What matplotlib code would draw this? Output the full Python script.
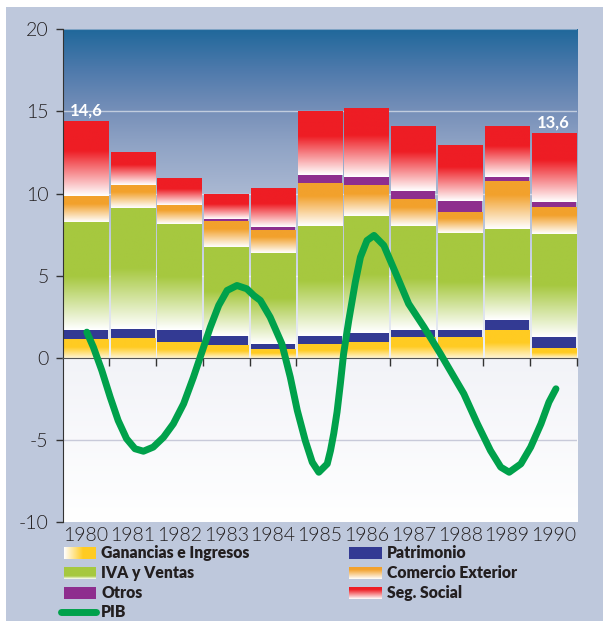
import numpy as np
import matplotlib
matplotlib.use('Agg')
import matplotlib.pyplot as plt
from matplotlib.colors import to_rgb
from matplotlib.patches import Rectangle

# Recaudacion por impuesto (% del PIB) y variacion del PIB
years = [1980, 1981, 1982, 1983, 1984, 1985, 1986, 1987, 1988, 1989, 1990]
ganancias = [1.16, 1.19, 0.95, 0.75, 0.51, 0.81, 0.99, 1.24, 1.24, 1.68, 0.59]
patrimonio = [0.54, 0.55, 0.73, 0.55, 0.30, 0.49, 0.49, 0.48, 0.48, 0.65, 0.65]
iva_ventas = [6.56, 7.37, 6.46, 5.44, 5.56, 6.72, 7.15, 6.30, 5.87, 5.50, 6.29]
comercio = [1.56, 1.38, 1.16, 1.56, 1.40, 2.60, 1.92, 1.62, 1.26, 2.93, 1.64]
otros = [0.00, 0.00, 0.00, 0.14, 0.18, 0.48, 0.43, 0.51, 0.67, 0.22, 0.29]
seg_social = [4.57, 2.01, 1.62, 1.51, 2.36, 3.90, 4.22, 3.96, 3.43, 3.13, 4.22]

# PIB
pib_x = [1980.02, 1980.16, 1980.34, 1980.52, 1980.69, 1980.87, 1981.05, 1981.23,
         1981.44, 1981.66, 1981.87, 1982.09, 1982.30, 1982.48, 1982.66, 1982.84,
         1983.02, 1983.23, 1983.44, 1983.59, 1983.73, 1983.94, 1984.19, 1984.37,
         1984.52, 1984.69, 1984.84, 1984.98, 1985.16, 1985.23, 1985.30, 1985.37,
         1985.44, 1985.51, 1985.62, 1985.76, 1985.87, 1986.01, 1986.16, 1986.37,
         1986.66, 1986.90, 1987.23, 1987.58, 1988.08, 1988.37, 1988.65, 1988.87,
         1989.05, 1989.30, 1989.51, 1989.73, 1989.90, 1990.05]
pib_y = [1.56, 0.65, -0.77, -2.40, -3.82, -4.93, -5.54, -5.69,
         -5.44, -4.84, -4.02, -2.80, -1.18, 0.34, 1.86, 3.19,
         4.10, 4.40, 4.20, 3.79, 3.49, 2.47, 0.85, -1.18,
         -3.21, -5.04, -6.36, -6.97, -6.46, -5.65, -4.60, -3.30,
         -1.60, 0.24, 2.27, 4.60, 6.13, 7.14, 7.45, 6.84,
         4.91, 3.29, 1.86, 0.24, -2.19, -4.02, -5.65, -6.66,
         -6.97, -6.46, -5.44, -4.02, -2.70, -1.89]

labels_top = {1980: ("14,6", 15.05), 1990: ("13,6", 14.33)}

# name, values, colour, fade fraction (None = solid), floor
series = [
    ("Ganancias e Ingresos", ganancias, "#FFCB22", 0.55, 0.2),
    ("Patrimonio", patrimonio, "#333A93", None, 0),
    ("IVA y Ventas", iva_ventas, "#A6C83F", 0.5, 0.0),
    ("Comercio Exterior", comercio, "#F2A12C", 0.7, 0.0),
    ("Otros", otros, "#8E2E8E", None, 0),
    ("Seg. Social", seg_social, "#EE1D24", 0.6, 0.0),
]

W, H = 603, 621
fig = plt.figure(figsize=(W / 100, H / 100), dpi=100)
fig.patch.set_facecolor("white")

bg = fig.add_axes([0, 0, 1, 1], zorder=0)
bg.axis("off")
bg.add_patch(Rectangle((6, 7), W - 6, H - 7, color="#BEC8DC", lw=0, zorder=0))


def grad_img(color, fade, floor=0.0, n=80):
    t = np.linspace(0, 1, n)
    f = np.clip(t / fade, 0, 1)
    f = floor + (1 - floor) * f
    c = np.array(to_rgb(color))
    img = np.ones(3) * (1 - f)[:, None] + c * f[:, None]
    return img[:, None, :]


ax = fig.add_axes([62.5 / W, 1 - 522 / H, (577 - 62.5) / W, (522 - 29.3) / H], zorder=1)

# background gradients
sky = ["#EEF1F6", "#D2D9E7", "#AAB8D2", "#8FA3C5", "#7790B9", "#4F7AAC", "#20689B"]
sky_pos = [0, 5, 10, 13, 15, 17.5, 20]
yy = np.linspace(0, 20, 200)
sky_img = np.array([np.interp(yy, sky_pos, [to_rgb(c)[k] for c in sky]) for k in range(3)]).T
ax.imshow(sky_img[:, None, :], extent=[1979.5, 1990.5, 0, 20], origin="lower",
          aspect="auto", zorder=0, interpolation="bilinear")
low = np.linspace(0, 1, 50)
low_img = (np.array(to_rgb("#FFFFFF")) * (1 - low)[:, None]
           + np.array(to_rgb("#F2F3F8")) * low[:, None])
ax.imshow(low_img[:, None, :], extent=[1979.5, 1990.5, -10, 0], origin="lower",
          aspect="auto", zorder=0, interpolation="bilinear")
ax.axhline(20, color="#7FA3C4", lw=1.5, zorder=0.5)

for g in [5, 10, 15]:
    ax.axhline(g, color="white", lw=1, alpha=0.55, zorder=0.5)
ax.axhline(-5, color="#C8CAD9", lw=1, zorder=0.5)

bottom = np.zeros(len(years))
for name, vals, col, fade, floor in series:
    bars = ax.bar(years, vals, width=0.945, bottom=bottom, color=col, lw=0, zorder=2)
    if fade is not None:
        img = grad_img(col, fade, floor)
        for p in bars.patches:
            x0, y0 = p.get_xy()
            h = p.get_height()
            if h <= 0:
                continue
            im = ax.imshow(img, extent=[x0, x0 + p.get_width(), y0, y0 + h],
                           origin="lower", aspect="auto", zorder=2.1,
                           interpolation="bilinear")
            im.set_clip_path(p)
    bottom = bottom + np.array(vals)

ax.plot(pib_x, pib_y, color="#00A14B", lw=5, solid_capstyle="round",
        solid_joinstyle="round", zorder=4)

for yr, (txt, yv) in labels_top.items():
    ax.text(yr, yv, txt, color="white", fontsize=12, fontweight="bold",
            family="Lato", ha="center", va="center", zorder=5)

ax.set_xlim(1979.5, 1990.5)
ax.set_ylim(-10, 20)
ax.set_yticks([-10, -5, 0, 5, 10, 15, 20])
ax.set_yticklabels(["-10", "-5", "0", "5", "10", "15", "20"], family="Lato",
                   fontweight=300, fontsize=14, color="#231F20")
ax.tick_params(axis="y", length=5, width=1, color="#333333", pad=5)
ax.set_xticks([y + 0.5 for y in years])
ax.set_xticklabels([])
ax.tick_params(axis="x", length=6, width=1, color="#333333", direction="out")
ax.spines["bottom"].set_position(("data", 0))
ax.spines["bottom"].set_color("#555555")
ax.spines["bottom"].set_zorder(3)
ax.spines["left"].set_color("#333333")
ax.spines["top"].set_visible(False)
ax.spines["right"].set_visible(False)

for yr in years:
    ax.text(yr, -11.15, str(yr), ha="center", va="baseline", family="Lato",
            fontweight=300, fontsize=14, color="#231F20", clip_on=False)

# legend
rows = [553, 573, 593, 612]
cols = [(64, 96, 101), (349, 382, 387)]
slots = [(0, 0), (0, 1), (1, 0), (1, 1), (2, 0), (2, 1)]
for i, (r, c) in enumerate(slots):
    name, vals, col, fade, floor = series[i]
    x0, x1, tx = cols[c]
    yc = rows[r]
    if name == "Ganancias e Ingresos":
        img = grad_img(col, 0.6, 0.0)[:, 0, :][None, :, :]
        bg.imshow(img, extent=[x0, x1, yc + 6, yc - 6], origin="lower",
                  aspect="auto", interpolation="bilinear", zorder=2)
    elif fade is not None:
        img = grad_img(col, 0.25 if name == "IVA y Ventas" else 0.8, 0.0)
        bg.imshow(img, extent=[x0, x1, yc + 6, yc - 6], origin="lower",
                  aspect="auto", interpolation="bilinear", zorder=2)
    else:
        bg.add_patch(Rectangle((x0, yc - 6), x1 - x0, 12, color=col, lw=0, zorder=2))
    bg.text(tx, yc, name, family="Lato", fontweight="heavy", fontsize=11.3,
            color="#231F20", ha="left", va="center", zorder=3)

bg.plot([61, 96], [rows[3], rows[3]], color="#00A14B", lw=5, solid_capstyle="round",
        zorder=3)
bg.text(cols[0][2], rows[3], "PIB", family="Lato", fontweight="heavy", fontsize=11.3,
        color="#231F20", ha="left", va="center", zorder=3)
bg.set_xlim(0, W)
bg.set_ylim(H, 0)

fig.savefig("out.png", dpi=100)
